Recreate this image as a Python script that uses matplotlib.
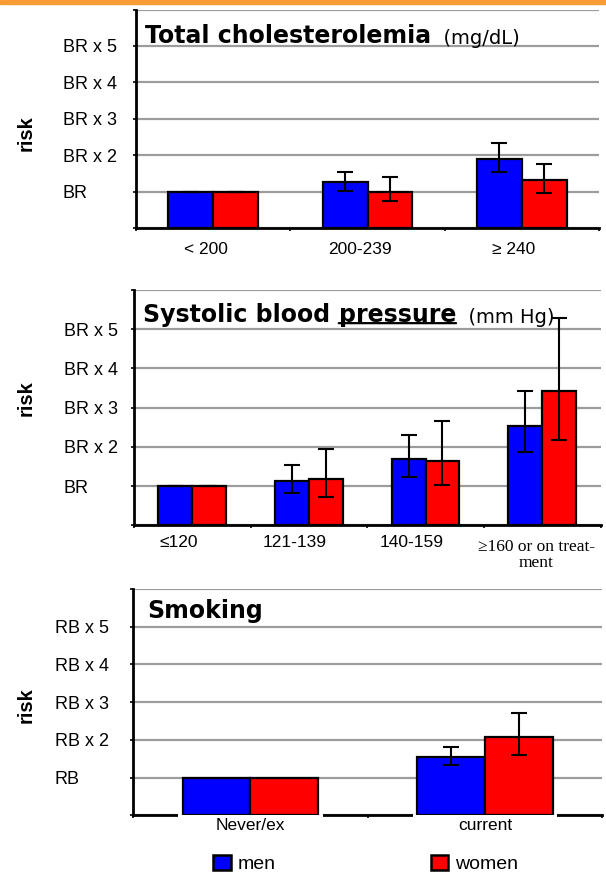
import numpy as np
import matplotlib
matplotlib.use("Agg")
import matplotlib.pyplot as plt
from matplotlib.patches import Patch, Rectangle
from matplotlib.text import OffsetFrom

plt.rcParams['font.family'] = ['Liberation Sans', 'DejaVu Sans']

# ---- data (relative risk, BR = 1) ----
chol_cats = ['< 200', '200-239', '≥ 240']
chol_men = [1.0, 1.25, 1.90]
chol_men_lo = [1.0, 1.02, 1.53]
chol_men_hi = [1.0, 1.54, 2.34]
chol_women = [1.0, 1.0, 1.32]
chol_women_lo = [1.0, 0.73, 0.95]
chol_women_hi = [1.0, 1.39, 1.76]

bp_cats = ['≤120', '121-139', '140-159', '≥160 or on treat-\nment']
bp_men = [1.0, 1.13, 1.69, 2.52]
bp_men_lo = [1.0, 0.83, 1.22, 1.88]
bp_men_hi = [1.0, 1.54, 2.30, 3.42]
bp_women = [1.0, 1.17, 1.63, 3.42]
bp_women_lo = [1.0, 0.71, 1.03, 2.18]
bp_women_hi = [1.0, 1.94, 2.65, 5.29]

smk_cats = ['Never/ex', 'current']
smk_men = [1.0, 1.55]
smk_men_lo = [np.nan, 1.34]
smk_men_hi = [np.nan, 1.82]
smk_women = [1.0, 2.08]
smk_women_lo = [np.nan, 1.61]
smk_women_hi = [np.nan, 2.71]

br_labels = ['', 'BR', 'BR x 2', 'BR x 3', 'BR x 4', 'BR x 5', '']
rb_labels = ['', 'RB', 'RB x 2', 'RB x 3', 'RB x 4', 'RB x 5', '']

BLUE = '#0000ff'
RED = '#ff0000'
W, H = 606, 873

fig = plt.figure(figsize=(W / 100, H / 100), dpi=100)
fig.patches.append(Rectangle((0, 1 - 4 / H), 1, 4 / H, transform=fig.transFigure,
                             color='#f89c33', zorder=0))


def axes_px(left, right, top, bottom):
    return fig.add_axes([left / W, 1 - bottom / H, (right - left) / W, (bottom - top) / H])


def panel(ax, cats, men, men_lo, men_hi, women, women_lo, women_hi, ylabels, pad,
          lab_y, lab_dx, gap=False):
    n = len(cats)
    x = np.arange(n) + 0.5
    w = 0.29
    men, women = np.array(men), np.array(women)
    ax.bar(x - w / 2, men, w, color=BLUE, edgecolor='black', lw=1.6, zorder=3)
    ax.bar(x + w / 2, women, w, color=RED, edgecolor='black', lw=1.6, zorder=3)
    if gap:
        # white notch that breaks the x axis line under each group
        ax.bar(x, 0.12, 2 * w + 0.035, bottom=-0.06, color='white', zorder=2.7, clip_on=False)
    for xs, v, lo, hi in [(x - w / 2, men, men_lo, men_hi), (x + w / 2, women, women_lo, women_hi)]:
        lo, hi = np.array(lo), np.array(hi)
        ok = ~np.isnan(lo)
        ax.errorbar(xs[ok], v[ok], yerr=[v[ok] - lo[ok], hi[ok] - v[ok]], fmt='none',
                    ecolor='black', elinewidth=1.5, capsize=5.5, capthick=1.5, zorder=4)
    ax.set_xlim(0, n)
    ax.set_ylim(0, 6)
    ax.set_yticks(range(7))
    ax.set_yticklabels(ylabels, ha='left', fontsize=13)
    ax.tick_params(axis='y', length=2.5, width=1.2, pad=pad, direction='out')
    ax.set_xticks(range(n + 1))
    ax.set_xticklabels([])
    ax.tick_params(axis='x', length=2.5, width=1.2, direction='out')
    ax.yaxis.grid(True, color='#9c9c9c', lw=1.6)
    ax.set_axisbelow(True)
    for s in ['top', 'right']:
        ax.spines[s].set_visible(False)
    ax.spines['left'].set_linewidth(2)
    ax.spines['bottom'].set_linewidth(2)
    for i, c in enumerate(cats):
        fam = ['Liberation Serif', 'DejaVu Serif'] if '\n' in c else ['Liberation Sans', 'DejaVu Sans']
        ax.text(x[i] + lab_dx[i], lab_y[i], c, transform=ax.get_xaxis_transform(), ha='center',
                va='center', fontsize=12.5, family=fam, linespacing=1.0)


def title(ax, x, y, parts):
    prev = None
    for txt, kw in parts:
        under = kw.pop('underline', False)
        if prev is None:
            t = ax.text(x, y, txt, transform=ax.get_yaxis_transform(), ha='left',
                        va='baseline', zorder=5, **kw)
        else:
            t = ax.annotate(txt, xy=(1, 0), xycoords=prev, ha='left', va='bottom',
                            zorder=5, **kw)
        if under:
            ax.annotate('', xy=(0, 2.6), xycoords=OffsetFrom(t, (0, 0)),
                        xytext=(0, 2.6), textcoords=OffsetFrom(t, (1, 0)),
                        arrowprops=dict(arrowstyle='-', lw=1.6, color='black',
                                        shrinkA=0, shrinkB=0))
        prev = t


bold = dict(family='DejaVu Sans', fontweight='bold', fontsize=17)
reg = dict(family='DejaVu Sans', fontsize=14)

ax1 = axes_px(136, 599, 9.5, 228)
panel(ax1, chol_cats, chol_men, chol_men_lo, chol_men_hi, chol_women, chol_women_lo,
      chol_women_hi, br_labels, 50.4, [-0.10] * 3, [-0.05, -0.05, -0.05])
title(ax1, 0.019, 5.07, [('Total cholesterolemia', dict(bold)), ('  (mg/dL)', dict(reg))])

ax2 = axes_px(134, 600.5, 290, 525.3)
panel(ax2, bp_cats, bp_men, bp_men_lo, bp_men_hi, bp_women, bp_women_lo, bp_women_hi,
      br_labels, 48.2, [-0.074, -0.074, -0.074, -0.126], [-0.12, -0.12, -0.12, -0.05])
title(ax2, 0.020, 5.19, [('Systolic blood ', dict(bold)),
                         ('pressure', dict(bold, underline=True)),
                         ('  (mm Hg)', dict(reg))])

ax3 = axes_px(133.3, 602, 589, 815.3)
panel(ax3, smk_cats, smk_men, smk_men_lo, smk_men_hi, smk_women, smk_women_lo,
      smk_women_hi, rb_labels, 54.2, [-0.043] * 2, [0, 0], gap=True)
title(ax3, 0.030, 5.23, [('Smoking', dict(bold))])

for yy in [133, 398, 705]:
    fig.text(26 / W, 1 - yy / H, 'risk', rotation=90, ha='center', va='center',
             fontsize=14.5, fontweight='bold')

handles = [Patch(facecolor=BLUE, edgecolor='black', lw=1.8, label='men'),
           Patch(facecolor=RED, edgecolor='black', lw=1.8, label='women')]
fig.legend(handles=handles, loc='center left', bbox_to_anchor=(213 / W, 1 - 864 / H),
           ncol=2, frameon=False, prop=dict(family='Liberation Sans', size=14),
           handlelength=0.9, handleheight=0.85, handletextpad=0.35, columnspacing=8.0,
           borderpad=0, borderaxespad=0)

fig.savefig('out.png', dpi=100)
